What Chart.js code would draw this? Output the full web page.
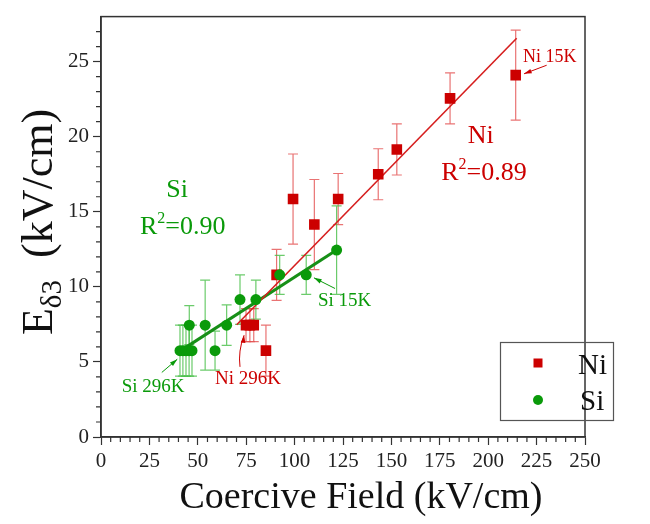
<!DOCTYPE html>
<html>
<head>
<meta charset="utf-8">
<script src="https://cdn.jsdelivr.net/npm/chart.js@4.4.1/dist/chart.umd.min.js"></script>
<style>
  body { margin: 0; background: #fff; }
  #wrap { width: 650px; height: 524px; }
</style>
</head>
<body>
<div id="wrap"><canvas id="grafico_campo_coercivo" width="650" height="524"></canvas></div>
<script>
/* Ni and Si points: coercive field (x), E_δ3 (y) and error bar half-height */
const ni_x = [214.2, 180.3, 152.8, 143.2, 122.5, 110.2, 99.2, 90.7, 74.9, 76.9, 78.9, 85.2];
const ni_y = [24.1, 22.55, 19.15, 17.5, 15.85, 14.15, 15.85, 10.8, 7.45, 7.45, 7.45, 5.75];
const ni_err = [3.0, 1.7, 1.7, 1.7, 1.7, 3.0, 3.0, 1.7, 1.1, 1.1, 1.1, 1.7];

const si_x = [121.7, 106.0, 92.3, 80.0, 71.8, 64.9, 58.9, 53.8, 45.6, 40.8, 42.3, 43.9, 45.5, 47.0];
const si_y = [12.45, 10.8, 10.8, 9.15, 9.15, 7.45, 5.75, 7.45, 7.45, 5.75, 5.75, 5.75, 5.75, 5.75];
const si_err = [2.95, 1.3, 1.3, 1.3, 1.65, 1.35, 1.3, 3.0, 1.3, 1.7, 1.7, 1.7, 1.7, 1.7];

/* linear fits (end points) */
const ni_fit_x = [70.1, 214.7];
const ni_fit_y = [7.48, 26.56];
const si_fit_x = [40.8, 121.7];
const si_fit_y = [5.72, 12.45];

const ticks_x = [0, 25, 50, 75, 100, 125, 150, 175, 200, 225, 250];
const ticks_y = [0, 5, 10, 15, 20, 25];

const VERMELHO = '#cc0000';
const VERDE = '#0a9a0a';
const FONTE = '"Liberation Serif", "Times New Roman", serif';

const pontos = (xs, ys) => xs.map((v, i) => ({ x: v, y: ys[i] }));

/* texts placed in data units */
const anotacoes = [
    { texto: 'Si', x: 39.3, y: 16.0, cor: VERDE, tam: 26, alinha: 'center' },
    { texto: 'R', sup: '2', resto: '=0.90', x: 42.2, y: 13.55, cor: VERDE, tam: 26, alinha: 'center' },
    { texto: 'Ni', x: 196.1, y: 19.6, cor: VERMELHO, tam: 26, alinha: 'center' },
    { texto: 'R', sup: '2', resto: '=0.89', x: 197.8, y: 17.1, cor: VERMELHO, tam: 26, alinha: 'center' },
    { texto: 'Ni 15K', x: 218, y: 25.0, cor: VERMELHO, tam: 18, alinha: 'left' },
    { texto: 'Si 15K', x: 112.1, y: 8.75, cor: VERDE, tam: 19, alinha: 'left' },
    { texto: 'Si 296K', x: 10.7, y: 2.98, cor: VERDE, tam: 19, alinha: 'left' },
    { texto: 'Ni 296K', x: 58.9, y: 3.55, cor: VERMELHO, tam: 19, alinha: 'left' },
];

const setas = [
    { de: [230.2, 24.76], para: [218.5, 24.19], cor: VERMELHO },
    { de: [120.9, 9.89], para: [110.0, 10.6], cor: VERDE },
    { de: [31.4, 4.3], para: [39.4, 5.18], cor: VERDE },
    { de: [71.8, 4.67], para: [73.9, 6.78], cor: VERMELHO, curva: true },
];

function seta(ctx, x0, y0, x1, y1, cor, curva) {
    ctx.save();
    ctx.strokeStyle = cor;
    ctx.fillStyle = cor;
    ctx.lineWidth = 1;
    ctx.beginPath();
    ctx.moveTo(x0, y0);
    if (curva) {
        ctx.quadraticCurveTo(x0 - 2, (y0 + y1) / 2, x1, y1);
    } else {
        ctx.lineTo(x1, y1);
    }
    ctx.stroke();
    const ang = Math.atan2(y1 - y0, x1 - x0);
    ctx.beginPath();
    ctx.moveTo(x1, y1);
    ctx.lineTo(x1 - 8 * Math.cos(ang - 0.3), y1 - 8 * Math.sin(ang - 0.3));
    ctx.lineTo(x1 - 8 * Math.cos(ang + 0.3), y1 - 8 * Math.sin(ang + 0.3));
    ctx.closePath();
    ctx.fill();
    ctx.restore();
}

const barras_erro = {
    id: 'barras_erro',
    beforeDatasetsDraw(chart) {
        const { ctx, scales: { x, y } } = chart;
        const desenha = (xs, ys, es, cor) => {
            ctx.save();
            ctx.strokeStyle = cor;
            ctx.lineWidth = 1.2;
            xs.forEach((v, i) => {
                const px = x.getPixelForValue(v);
                const top = y.getPixelForValue(ys[i] + es[i]);
                const bot = y.getPixelForValue(ys[i] - es[i]);
                ctx.beginPath();
                ctx.moveTo(px, top); ctx.lineTo(px, bot);
                ctx.moveTo(px - 5, top); ctx.lineTo(px + 5, top);
                ctx.moveTo(px - 5, bot); ctx.lineTo(px + 5, bot);
                ctx.stroke();
            });
            ctx.restore();
        };
        desenha(ni_x, ni_y, ni_err, 'rgba(228, 80, 80, 0.8)');
        desenha(si_x, si_y, si_err, 'rgba(70, 190, 70, 0.8)');
    }
};

const moldura = {
    id: 'moldura',
    afterDraw(chart) {
        const { ctx, chartArea: a, scales: { x, y } } = chart;
        ctx.save();
        // frame
        ctx.strokeStyle = '#333';
        ctx.lineWidth = 1.5;
        ctx.strokeRect(a.left, a.top, a.right - a.left, a.bottom - a.top);
        // minor ticks
        ctx.lineWidth = 1.2;
        ctx.beginPath();
        for (let v = 5; v < 250; v += 5) {
            if (v % 25 === 0) continue;
            const px = x.getPixelForValue(v);
            ctx.moveTo(px, a.bottom); ctx.lineTo(px, a.bottom + 5);
        }
        for (let v = 1; v < 28; v++) {
            if (v % 5 === 0) continue;
            const py = y.getPixelForValue(v);
            ctx.moveTo(a.left - 5, py); ctx.lineTo(a.left, py);
        }
        ctx.stroke();

        // annotations
        anotacoes.forEach(t => {
            const px = x.getPixelForValue(t.x);
            const py = y.getPixelForValue(t.y);
            ctx.fillStyle = t.cor;
            ctx.textBaseline = 'alphabetic';
            ctx.font = t.tam + 'px ' + FONTE;
            if (t.sup) {
                const fs = Math.round(t.tam * 0.6);
                ctx.font = t.tam + 'px ' + FONTE;
                const w1 = ctx.measureText(t.texto).width;
                const w3 = ctx.measureText(t.resto).width;
                ctx.font = fs + 'px ' + FONTE;
                const w2 = ctx.measureText(t.sup).width;
                let sx = px - (w1 + w2 + w3) / 2;
                ctx.textAlign = 'left';
                ctx.font = t.tam + 'px ' + FONTE;
                ctx.fillText(t.texto, sx, py);
                ctx.font = fs + 'px ' + FONTE;
                ctx.fillText(t.sup, sx + w1, py - t.tam * 0.42);
                ctx.font = t.tam + 'px ' + FONTE;
                ctx.fillText(t.resto, sx + w1 + w2, py);
            } else {
                ctx.textAlign = t.alinha;
                ctx.fillText(t.texto, px, py);
            }
        });
        setas.forEach(s => seta(ctx,
            x.getPixelForValue(s.de[0]), y.getPixelForValue(s.de[1]),
            x.getPixelForValue(s.para[0]), y.getPixelForValue(s.para[1]), s.cor, s.curva));

        // legend
        ctx.strokeStyle = '#555';
        ctx.lineWidth = 1.2;
        ctx.strokeRect(500.5, 342.5, 113, 78);
        ctx.fillStyle = VERMELHO;
        ctx.fillRect(533.5, 358.5, 9, 9);
        ctx.fillStyle = VERDE;
        ctx.beginPath();
        ctx.arc(538, 400, 5, 0, Math.PI * 2);
        ctx.fill();
        ctx.fillStyle = '#111';
        ctx.font = '29px ' + FONTE;
        ctx.textAlign = 'left';
        ctx.textBaseline = 'middle';
        ctx.fillText('Ni', 578, 366);
        ctx.fillText('Si', 580, 402);

        // axis titles
        ctx.fillStyle = '#111';
        ctx.textAlign = 'center';
        ctx.textBaseline = 'alphabetic';
        ctx.font = '38px ' + FONTE;
        ctx.fillText('Coercive Field (kV/cm)', 361, 508);

        ctx.translate(52, 222);
        ctx.rotate(-Math.PI / 2);
        ctx.font = '44px ' + FONTE;
        const wE = ctx.measureText('E').width;
        const wR = ctx.measureText('  (kV/cm)').width;
        ctx.font = '29px ' + FONTE;
        const wS = ctx.measureText('δ3').width;
        const total = wE + wS + wR;
        let cx = -total / 2;
        ctx.textAlign = 'left';
        ctx.font = '44px ' + FONTE;
        ctx.fillText('E', cx, 0);
        ctx.font = '29px ' + FONTE;
        ctx.fillText('δ3', cx + wE, 9);
        ctx.font = '44px ' + FONTE;
        ctx.fillText('  (kV/cm)', cx + wE + wS, 0);
        ctx.restore();
    }
};

const data_campo_coercivo = {
    datasets: [
        {
            label: 'Si',
            data: pontos(si_x, si_y),
            backgroundColor: VERDE,
            borderColor: VERDE,
            pointStyle: 'circle',
            pointRadius: 5.5,
            borderWidth: 0,
            order: 0
        },
        {
            label: 'Ni',
            data: pontos(ni_x, ni_y),
            backgroundColor: VERMELHO,
            borderColor: VERMELHO,
            pointStyle: 'rect',
            pointRadius: 7.5,
            borderWidth: 0,
            order: 1
        },
        {
            type: 'line',
            label: 'Ni fit',
            data: pontos(ni_fit_x, ni_fit_y),
            borderColor: '#d61e1e',
            borderWidth: 1.6,
            pointRadius: 0,
            fill: false,
            order: 2
        },
        {
            type: 'line',
            label: 'Si fit',
            data: pontos(si_fit_x, si_fit_y),
            borderColor: '#178f17',
            borderWidth: 3,
            pointRadius: 0,
            fill: false,
            order: 3
        }
    ]
};

const config_campo_coercivo = {
    type: 'scatter',
    data: data_campo_coercivo,
    plugins: [barras_erro, moldura],
    options: {
        responsive: false,
        animation: false,
        layout: { padding: { left: 0, right: 65, top: 11, bottom: 0 } },
        plugins: { legend: { display: false }, tooltip: { enabled: false } },
        scales: {
            x: {
                type: 'linear',
                min: 0,
                max: 250,
                afterFit: s => { s.height = 87; },
                afterBuildTicks: s => { s.ticks = ticks_x.map(v => ({ value: v })); },
                grid: { drawOnChartArea: false, tickLength: 8, color: '#333', tickWidth: 1.2 },
                border: { color: '#333', width: 1.5 },
                ticks: { padding: 4, color: '#222', font: { family: FONTE, size: 21 }, maxRotation: 0 }
            },
            y: {
                type: 'linear',
                min: 0,
                max: 28,
                afterFit: s => { s.width = 101; },
                afterBuildTicks: s => { s.ticks = ticks_y.map(v => ({ value: v })); },
                grid: { drawOnChartArea: false, tickLength: 8, color: '#333', tickWidth: 1.2 },
                border: { color: '#333', width: 1.5 },
                ticks: { padding: 4, color: '#222', font: { family: FONTE, size: 21 } }
            }
        }
    }
};

const grafico_campo_coercivo = new Chart(
    document.getElementById('grafico_campo_coercivo'),
    config_campo_coercivo
);
</script>
</body>
</html>
